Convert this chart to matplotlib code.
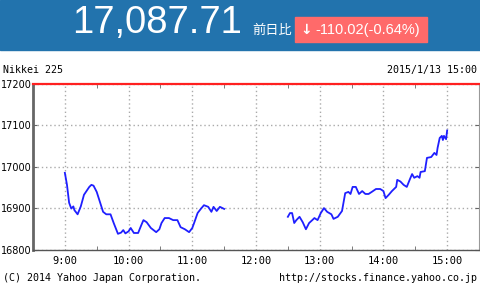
import matplotlib
matplotlib.use('Agg')
import matplotlib.pyplot as plt
from matplotlib.patches import Rectangle

# intraday prices, morning and afternoon sessions
am_times = ['9:00', '9:02', '9:04', '9:06', '9:08', '9:09', '9:12', '9:15', '9:18', '9:23',
            '9:25', '9:27', '9:30', '9:33', '9:36', '9:39', '9:43', '9:46', '9:50', '9:53',
            '9:55', '9:57', '10:00', '10:02', '10:05', '10:09', '10:12', '10:14', '10:17', '10:21',
            '10:26', '10:29', '10:31', '10:34', '10:38', '10:42', '10:46', '10:49', '10:53', '10:57',
            '11:00', '11:02', '11:05', '11:08', '11:11', '11:15', '11:18', '11:20', '11:23', '11:26',
            '11:30']
am_prices = [16986, 16957, 16914, 16900, 16905, 16896, 16886, 16905, 16933, 16952,
             16957, 16955, 16940, 16916, 16892, 16886, 16886, 16865, 16839, 16842,
             16848, 16840, 16845, 16853, 16841, 16841, 16860, 16872, 16867, 16853,
             16843, 16850, 16865, 16877, 16877, 16872, 16872, 16855, 16850, 16843,
             16853, 16867, 16889, 16899, 16908, 16904, 16892, 16904, 16894, 16904,
             16899]

pm_times = ['12:30', '12:32', '12:34', '12:36', '12:38', '12:41', '12:44', '12:47', '12:50', '12:53',
            '12:55', '12:58', '13:01', '13:04', '13:07', '13:11', '13:13', '13:17', '13:21', '13:24',
            '13:27', '13:29', '13:31', '13:34', '13:37', '13:40', '13:43', '13:46', '13:49', '13:53',
            '13:57', '14:00', '14:02', '14:05', '14:08', '14:12', '14:13', '14:16', '14:19', '14:22',
            '14:25', '14:27', '14:29', '14:32', '14:34', '14:35', '14:39', '14:41', '14:45', '14:48',
            '14:50', '14:51', '14:53', '14:55', '14:56', '14:57', '14:59', '15:00']
pm_prices = [16880, 16889, 16889, 16865, 16872, 16880, 16867, 16850, 16865, 16872,
             16877, 16872, 16889, 16901, 16892, 16886, 16875, 16880, 16894, 16937,
             16940, 16935, 16952, 16952, 16935, 16942, 16935, 16935, 16940, 16947,
             16947, 16942, 16925, 16933, 16942, 16952, 16969, 16965, 16957, 16952,
             16971, 16983, 16974, 16978, 16974, 16988, 16990, 17022, 17024, 17034,
             17029, 17046, 17070, 17075, 17065, 17075, 17067, 17088]

hour_ticks = [9, 10, 11, 12, 13, 14, 15]
hour_labels = ['9:00', '10:00', '11:00', '12:00', '13:00', '14:00', '15:00']
price_ticks = [16800, 16900, 17000, 17100, 17200]


def to_hours(t):
    h, m = t.split(':')
    return int(h) + int(m) / 60


fig = plt.figure(figsize=(4.8, 2.9), dpi=100)

# header band
fig.patches.append(Rectangle((0, 240 / 290), 1, 50 / 290, transform=fig.transFigure,
                             color='#2273ad', zorder=0))
fig.text(157 / 480, 1 - 23 / 290, '17,087.71', color='white', fontsize=27.5,
         family='Liberation Sans', ha='center', va='center')
fig.text(252 / 480, 1 - 30 / 290, '前日比', color='white', fontsize=9.5,
         family=['Noto Sans CJK JP', 'DejaVu Sans'], ha='left', va='center')
fig.patches.append(Rectangle((295 / 480, 1 - 42 / 290), 132 / 480, 25 / 290,
                             transform=fig.transFigure, color='#ff6a6a', zorder=1))
fig.text(300 / 480, 1 - 30 / 290, '↓', color='white', fontsize=10, fontweight='bold',
         family='DejaVu Sans', ha='left', va='center')
fig.text(315 / 480, 1 - 30 / 290, '-110.02(-0.64%)', color='white', fontsize=10.5,
         family='Liberation Sans', ha='left', va='center')

fig.text(3 / 480, 1 - 70 / 290, 'Nikkei 225', fontsize=7.2, family='DejaVu Sans Mono',
         ha='left', va='center')
fig.text(477 / 480, 1 - 70 / 290, '2015/1/13 15:00', fontsize=7.2, family='DejaVu Sans Mono',
         ha='right', va='center')
fig.text(3 / 480, 1 - 278 / 290, '(C) 2014 Yahoo Japan Corporation.', fontsize=7.2,
         family='DejaVu Sans Mono', ha='left', va='center')
fig.text(477 / 480, 1 - 278 / 290, 'http://stocks.finance.yahoo.co.jp', fontsize=7.2,
         family='DejaVu Sans Mono', ha='right', va='center')

ax = fig.add_axes([33 / 480, 40 / 290, 446 / 480, 166 / 290])

ax.plot([to_hours(t) for t in am_times], am_prices, color='#1f1fff', linewidth=1.3)
ax.plot([to_hours(t) for t in pm_times], pm_prices, color='#1f1fff', linewidth=1.3)

ax.set_xlim(8.5, 15.5)
ax.set_ylim(16800, 17200)
ax.set_xticks(hour_ticks)
ax.set_xticklabels(hour_labels, family='DejaVu Sans Mono', fontsize=7.5)
ax.set_xticks([h + 0.5 for h in range(8, 15)], minor=True)
ax.set_yticks(price_ticks)
ax.set_yticklabels([str(p) for p in price_ticks], fontsize=7)

ax.grid(True, color='#aaaaaa', linestyle=(0, (1, 2)), linewidth=1)

ax.tick_params(axis='x', which='major', length=0, pad=4)
ax.tick_params(axis='x', which='minor', direction='in', length=3, top=True, color='#666666')
ax.tick_params(axis='y', which='major', direction='in', length=3, right=True, pad=1,
               color='#666666')

ax.spines['left'].set_color('#666666')
ax.spines['left'].set_linewidth(2)
ax.spines['bottom'].set_color('#555555')
ax.spines['bottom'].set_linewidth(1)
ax.spines['top'].set_color('#ff2020')
ax.spines['top'].set_linewidth(1.6)
ax.spines['right'].set_color('#999999')
ax.spines['right'].set_linewidth(0.8)

fig.savefig('out.png', dpi=100)
